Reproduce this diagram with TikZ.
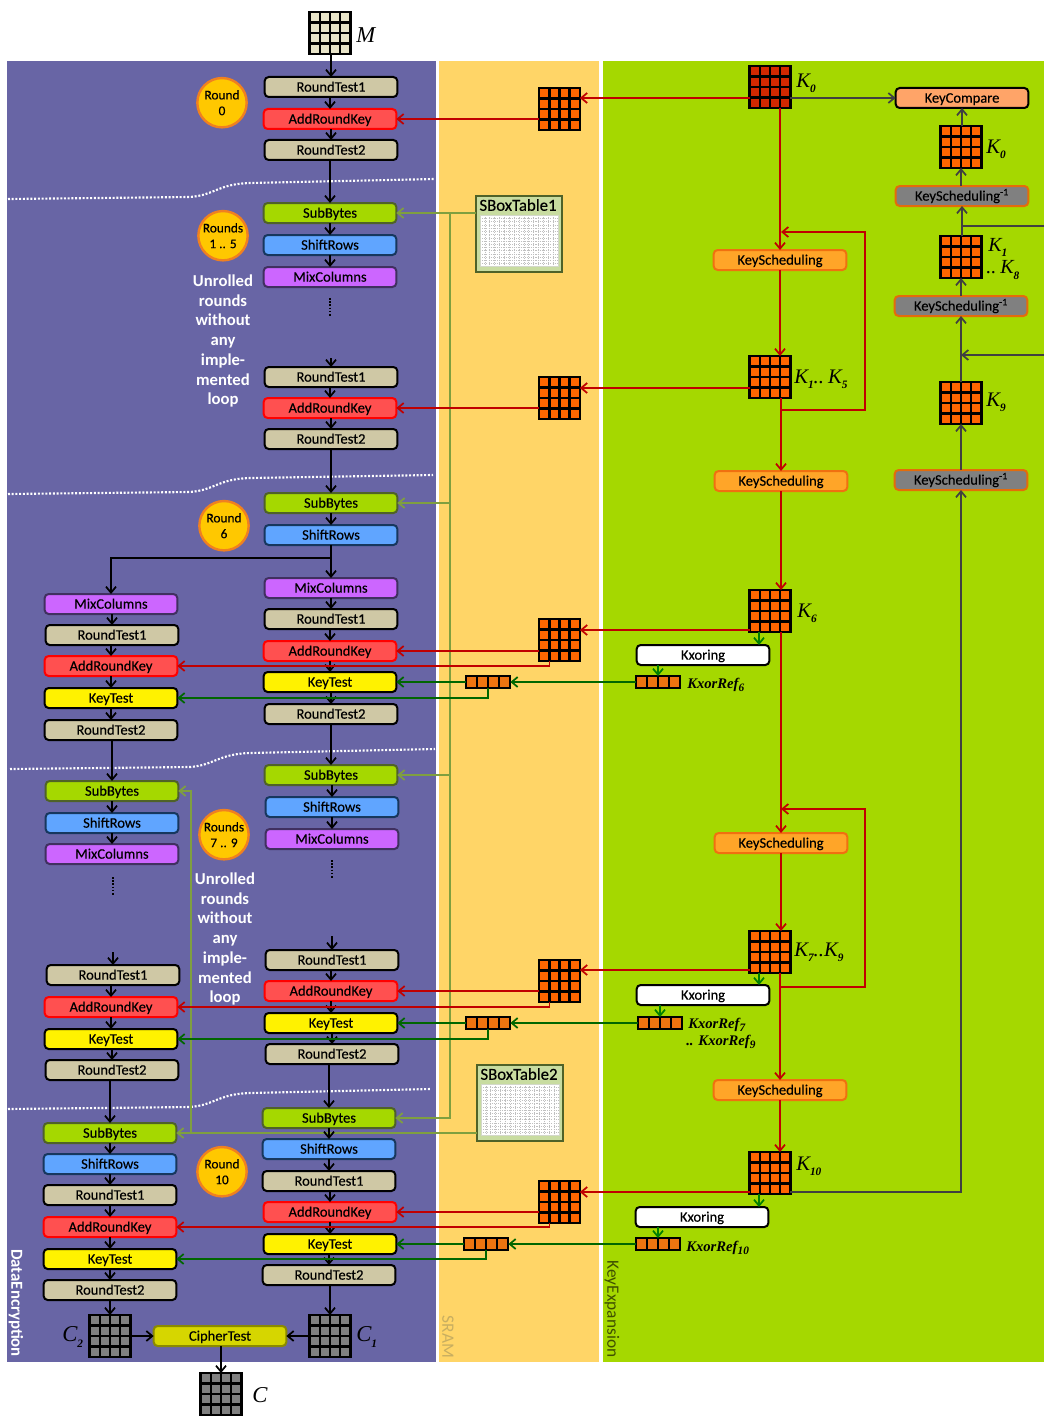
\documentclass[tikz,border=0pt]{standalone}
\usepackage{fontspec}
\setmainfont{Carlito}
\newfontfamily\boxf{Carlito}[FakeBold=0.25]
\newfontfamily\labfont{Liberation Serif}
\usetikzlibrary{arrows.meta,calc}
\definecolor{bandA}{HTML}{6865A5}
\definecolor{bandB}{HTML}{FFD567}
\definecolor{bandC}{HTML}{A5D800}
\definecolor{cRT}{HTML}{CFC8A5}
\definecolor{cARK}{HTML}{FF5050}
\definecolor{cSB}{HTML}{A5D800}
\definecolor{dSB}{HTML}{4F6228}
\definecolor{cSR}{HTML}{60A5FF}
\definecolor{dSR}{HTML}{17375E}
\definecolor{cMC}{HTML}{CC66FF}
\definecolor{dMC}{HTML}{403060}
\definecolor{cKS}{HTML}{FFA528}
\definecolor{dKS}{HTML}{F07010}
\definecolor{cKSI}{HTML}{808080}
\definecolor{dKSI}{HTML}{E46C0A}
\definecolor{cKC}{HTML}{FFA468}
\definecolor{cCT}{HTML}{D6D600}
\definecolor{dCT}{HTML}{8A8A00}
\definecolor{cCirc}{HTML}{FFC800}
\definecolor{dCirc}{HTML}{F08020}
\definecolor{gBeige}{HTML}{E8E4C8}
\definecolor{gOr}{HTML}{FF6600}
\definecolor{gBar}{HTML}{EE7410}
\definecolor{gDark}{HTML}{D22800}
\definecolor{gGrey}{HTML}{808080}
\definecolor{lRed}{HTML}{C00000}
\definecolor{lGreen}{HTML}{006600}
\definecolor{lGreenB}{HTML}{008000}
\definecolor{lOlive}{HTML}{7F9F3F}
\definecolor{lGrey}{HTML}{404040}
\definecolor{cTab}{HTML}{C8DCA0}
\definecolor{tSRAM}{HTML}{C8AE60}
\definecolor{tKE}{HTML}{3F5000}
\newcommand\ksub[1]{\raisebox{-3.8pt}{\fontsize{8.5}{9}\selectfont\bfseries\itshape #1}}
\newcommand\barsub[1]{\raisebox{-2.5pt}{\fontsize{8.5}{9}\selectfont\bfseries\itshape #1}}
\newcommand\vv[3][arr]{\draw[#1] (#3.north |- #2.south) -- (#3.north);}
\tikzset{
 x=0.75pt,y=-0.75pt,
 tip/.style={-{Straight Barb[length=4.5pt,width=7.5pt,line width=1.3pt]}},
 arr/.style={tip,line width=1.5pt,black},
 redarr/.style={tip,line width=1.4pt,lRed},
 greenarr/.style={tip,line width=1.4pt,lGreen},
 greenbarr/.style={tip,line width=1.4pt,lGreenB},
 olivearr/.style={tip,line width=1.3pt,lOlive},
 greyarr/.style={tip,line width=1.4pt,lGrey},
 sepline/.style={white,line width=1.6pt,dash pattern=on 1.5pt off 1.3pt},
 dotsline/.style={black,line width=1.5pt,dash pattern=on 1.2pt off 1.2pt},
 boxbase/.style={rectangle,rounded corners=3pt,minimum width=99.5pt,minimum height=15pt,inner sep=0pt,outer sep=0pt,line width=1.5pt,text height=9pt,text depth=2pt,font=\fontsize{10.9}{11}\selectfont\boxf,text=black},
 rt/.style={boxbase,fill=cRT,draw=black},
 ark/.style={boxbase,fill=cARK,draw=red},
 sb/.style={boxbase,fill=cSB,draw=dSB},
 sr/.style={boxbase,fill=cSR,draw=dSR},
 mc/.style={boxbase,fill=cMC,draw=dMC},
 kt/.style={boxbase,fill=yellow,draw=black},
 ks/.style={boxbase,fill=cKS,draw=dKS},
 ksi/.style={boxbase,fill=cKSI,draw=dKSI},
 kc/.style={boxbase,fill=cKC,draw=black},
 kx/.style={boxbase,fill=white,draw=black},
 ct/.style={boxbase,fill=cCT,draw=dCT},
 roundc/.style={circle,minimum size=37pt,inner sep=0pt,outer sep=0pt,fill=cCirc,draw=dCirc,line width=1.8pt,align=center,font=\fontsize{10}{11.8}\selectfont\boxf,text=black},
 unrolled/.style={align=center,text=white,font=\fontsize{12.5}{14.8}\selectfont\bfseries},
 keygrid/.style={rectangle,draw=black,line width=1.8pt,fill=#1,minimum width=30.5pt,minimum height=31.5pt,inner sep=0pt,outer sep=0pt,
   path picture={\foreach \k in {1,2,3}{
     \draw[black,line width=1.8pt] ($(path picture bounding box.north west)!\k/4!(path picture bounding box.north east)$) -- ($(path picture bounding box.south west)!\k/4!(path picture bounding box.south east)$);
     \draw[black,line width=1.8pt] ($(path picture bounding box.north west)!\k/4!(path picture bounding box.south west)$) -- ($(path picture bounding box.north east)!\k/4!(path picture bounding box.south east)$);
   }}},
 keybar/.style={rectangle,draw=black,line width=1.5pt,fill=gBar,minimum width=33.5pt,minimum height=9pt,inner sep=0pt,outer sep=0pt,
   path picture={\foreach \k in {1,2,3}{
     \draw[black,line width=1.5pt] ($(path picture bounding box.north west)!\k/4!(path picture bounding box.north east)$) -- ($(path picture bounding box.south west)!\k/4!(path picture bounding box.south east)$);
   }}},
 lab/.style={font=\fontsize{17}{17}\selectfont\labfont\itshape,anchor=west,inner sep=0pt,text=black},
 klab/.style={font=\fontsize{15.5}{16}\selectfont\labfont\itshape,anchor=west,inner sep=0pt,text=black},
 barlab/.style={font=\fontsize{11}{12}\selectfont\labfont\bfseries\itshape,anchor=west,inner sep=0pt,text=black},
 tabbox/.style={rectangle,draw=dSB,fill=cTab,line width=1.6pt,minimum width=65pt,minimum height=57.5pt,inner sep=0pt,outer sep=0pt},
 tabin/.style={rectangle,fill=white,draw=white!75!dSB,line width=0.5pt,minimum width=58.5pt,minimum height=38.5pt,inner sep=0pt,outer sep=0pt,
   path picture={
     \foreach \k in {1,...,15}{\draw[black!25,line width=0.4pt,dash pattern=on 0.8pt off 0.8pt] ($(path picture bounding box.north west)!\k/16!(path picture bounding box.north east)$) -- ($(path picture bounding box.south west)!\k/16!(path picture bounding box.south east)$);
     \draw[black!25,line width=0.4pt,dash pattern=on 0.8pt off 0.8pt] ($(path picture bounding box.north west)!\k/16!(path picture bounding box.south west)$) -- ($(path picture bounding box.north east)!\k/16!(path picture bounding box.south east)$);}
   }},
 tabtitle/.style={inner sep=0pt,font=\fontsize{12.6}{13}\selectfont\boxf,text=black},
 bandtxt/.style={rotate=-90,inner sep=0pt,font=\fontsize{13}{14}\selectfont},
}
\begin{document}
\begin{tikzpicture}
\useasboundingbox (0,0) rectangle (1044,1416);
% bands
\fill[bandA] (7,61) rectangle (436,1362);
\fill[bandB] (439,61) rectangle (599,1362);
\fill[bandC] (603,61) rectangle (1044,1362);
\node[bandtxt,text=white,font=\fontsize{12.6}{14}\selectfont\bfseries] (tDE) at (16,1303) {DataEncryption};
\node[bandtxt,text=tSRAM] (tSR) at (448,1337) {SRAM};
\node[bandtxt,text=tKE] (tKE1) at (612,1309) {KeyExpansion};
% separators
\draw[sepline] (8,199) -- (190,197) .. controls (215,195) and (218,184) .. (250,183) -- (435,179);
\draw[sepline] (8,494) -- (190,492) .. controls (215,490) and (218,479) .. (250,478) -- (433,475);
\draw[sepline] (10,769) -- (190,767) .. controls (215,765) and (218,754) .. (250,753) -- (435,749);
\draw[sepline] (8,1109) -- (190,1107) .. controls (215,1105) and (218,1094) .. (250,1093) -- (431,1089);
% circles
\node[roundc] (c0) at (222,102.7) {Round\\0};
\node[roundc] (c1) at (223,235.7) {Rounds\\1 .. 5};
\node[roundc] (c6) at (224,525.7) {Round\\6};
\node[roundc] (c7) at (224,834.7) {Rounds\\7 .. 9};
\node[roundc] (c10) at (222,1171.7) {Round\\10};
\node[unrolled] (u1) at (223,341) {Unrolled\\rounds\\without\\any\\imple-\\mented\\loop};
\node[unrolled] (u2) at (225,939) {Unrolled\\rounds\\without\\any\\imple-\\mented\\loop};
% main column
\node[rt] (RTa) at (331,87) {RoundTest1};
\node[ark] (ARa) at (330,119) {AddRoundKey};
\node[rt] (RUa) at (331,150) {RoundTest2};
\node[sb] (SBa) at (330,213) {SubBytes};
\node[sr] (SRa) at (330,245) {ShiftRows};
\node[mc] (MCa) at (330,277) {MixColumns};
\node[rt] (RTb) at (331,377) {RoundTest1};
\node[ark] (ARb) at (330,408) {AddRoundKey};
\node[rt] (RUb) at (331,439) {RoundTest2};
\node[sb] (SBb) at (331,503) {SubBytes};
\node[sr] (SRb) at (331,535) {ShiftRows};
\node[mc] (MCc) at (331,588) {MixColumns};
\node[rt] (RTc) at (331,619) {RoundTest1};
\node[ark] (ARc) at (330,651) {AddRoundKey};
\node[kt] (KTc) at (330,682) {KeyTest};
\node[rt] (RUc) at (331,714) {RoundTest2};
\node[sb] (SBd) at (331,775) {SubBytes};
\node[sr] (SRd) at (332,807) {ShiftRows};
\node[mc] (MCd) at (332,839) {MixColumns};
\node[rt] (RTe) at (332,960) {RoundTest1};
\node[ark] (ARe) at (331,991) {AddRoundKey};
\node[kt] (KTe) at (331,1023) {KeyTest};
\node[rt] (RUe) at (332,1054) {RoundTest2};
\node[sb] (SBf) at (329,1118) {SubBytes};
\node[sr] (SRf) at (329,1149) {ShiftRows};
\node[rt] (RTf) at (329,1181) {RoundTest1};
\node[ark] (ARf) at (330,1212) {AddRoundKey};
\node[kt] (KTf) at (330,1244) {KeyTest};
\node[rt] (RUf) at (329,1275) {RoundTest2};
% left column
\node[mc] (MCl) at (111,604) {MixColumns};
\node[rt] (RTl) at (112,635) {RoundTest1};
\node[ark] (ARl) at (111,666) {AddRoundKey};
\node[kt] (KTl) at (111,698) {KeyTest};
\node[rt] (RUl) at (111,730) {RoundTest2};
\node[sb] (SBl) at (112,791) {SubBytes};
\node[sr] (SRl) at (112,823) {ShiftRows};
\node[mc] (MCm) at (112,854) {MixColumns};
\node[rt] (RTm) at (113,975) {RoundTest1};
\node[ark] (ARm) at (111,1007) {AddRoundKey};
\node[kt] (KTm) at (111,1039) {KeyTest};
\node[rt] (RUm) at (112,1070) {RoundTest2};
\node[sb] (SBn) at (110,1133) {SubBytes};
\node[sr] (SRn) at (110,1164) {ShiftRows};
\node[rt] (RTn) at (110,1195) {RoundTest1};
\node[ark] (ARn) at (110,1227) {AddRoundKey};
\node[kt] (KTn) at (110,1259) {KeyTest};
\node[rt] (RUn) at (110,1290) {RoundTest2};
\node[ct] (CT) at (220,1336) {CipherTest};
% data grids
\node[keygrid=gBeige] (M) at (330,33) {};
\node[keygrid=gGrey] (C2) at (110,1336) {};
\node[keygrid=gGrey] (C1) at (330,1336) {};
\node[keygrid=gGrey] (Cc) at (221,1394) {};
\node[lab] (lM) at (356,35) {M};
\node[lab] (lC2) at (62,1337) {C\ksub{2}};
\node[lab] (lC1) at (356,1337) {C\ksub{1}};
\node[lab] (lC) at (252,1395) {C};
% sram grids
\node[keygrid=gOr] (G1) at (559.5,109) {};
\node[keygrid=gOr] (G2) at (559.5,398) {};
\node[keygrid=gOr] (G3) at (559.5,640) {};
\node[keygrid=gOr] (G4) at (559.5,981) {};
\node[keygrid=gOr] (G5) at (559.5,1202) {};
\node[keybar] (B3) at (488,682) {};
\node[keybar] (B4) at (488,1023) {};
\node[keybar] (B5) at (486,1244) {};
% sbox tables
\node[tabbox] (T1) at (519,234) {};
\node[tabin] (T1i) at (519,241) {};
\node[tabtitle] (T1t) at (518,205) {SBoxTable1};
\node[tabbox] (T2) at (520,1103) {};
\node[tabin] (T2i) at (520,1110) {};
\node[tabtitle] (T2t) at (519,1074) {SBoxTable2};
% key expansion
\node[keygrid=gDark] (K0) at (770,87) {};
\node[keygrid=gOr] (K1) at (770,377) {};
\node[keygrid=gOr] (K6) at (770,611) {};
\node[keygrid=gOr] (K7) at (770,952) {};
\node[keygrid=gOr] (K10) at (770,1173) {};
\node[ks] (KSa) at (780,260) {KeyScheduling};
\node[ks] (KSb) at (781,481) {KeyScheduling};
\node[ks] (KSc) at (781,843) {KeyScheduling};
\node[ks] (KSd) at (780,1090) {KeyScheduling};
\node[kx] (Xa) at (703,655) {Kxoring};
\node[kx] (Xb) at (703,995) {Kxoring};
\node[kx] (Xc) at (702,1217) {Kxoring};
\node[keybar] (Ba) at (658,682) {};
\node[keybar] (Bb) at (660,1023) {};
\node[keybar] (Bc) at (658,1244) {};
\node[kc] (KC) at (962,98) {KeyCompare};
\node[keygrid=gOr] (Ra) at (961,147) {};
\node[ksi] (KIa) at (962,196) {KeyScheduling\textsuperscript{-1}};
\node[keygrid=gOr] (Rb) at (961,257) {};
\node[ksi] (KIb) at (961,306) {KeyScheduling\textsuperscript{-1}};
\node[keygrid=gOr] (Rc) at (961,403) {};
\node[ksi] (KIc) at (961,480) {KeyScheduling\textsuperscript{-1}};
% key labels
\node[klab] (lK0) at (796,83) {K\ksub{0}};
\node[klab] (lK1) at (794,379) {K\ksub{1}..\hspace{3pt}K\ksub{5}};
\node[klab] (lK6) at (797,613) {K\ksub{6}};
\node[klab] (lK7) at (794,952) {K\ksub{7}..K\ksub{9}};
\node[klab] (lK10) at (796,1166) {K\ksub{10}};
\node[klab] (lRa) at (986,149) {K\ksub{0}};
\node[klab,font=\fontsize{15}{15}\selectfont\labfont\itshape] (lRb) at (988,247) {K\ksub{1}};
\node[klab,font=\fontsize{15}{15}\selectfont\labfont\itshape] (lRb2) at (986,270) {..\hspace{3pt}K\ksub{8}};
\node[klab] (lRc) at (986,402) {K\ksub{9}};
\node[barlab] (lBa) at (687,685) {KxorRef\barsub{6}};
\node[barlab] (lBb) at (688,1025) {KxorRef\barsub{7}};
\node[barlab] (lBb2) at (686,1042) {.. KxorRef\barsub{9}};
\node[barlab] (lBc) at (686,1248) {KxorRef\barsub{10}};
% dotted continuations
\coordinate (da1) at (330,298); \coordinate (da2) at (330,316); \coordinate (da3) at (331,358);
\coordinate (dd1) at (332,860); \coordinate (dd2) at (332,878); \coordinate (dd3) at (333,936);
\coordinate (dl1) at (113,877); \coordinate (dl2) at (113,895); \coordinate (dl3) at (113,952);
\draw[dotsline] (da1) -- (da2);
\draw[dotsline] (dd1) -- (dd2);
\draw[dotsline] (dl1) -- (dl2);
\draw[arr] (da3 -| RTb.north) -- (RTb.north);
\draw[arr] (dd3 -| RTe.north) -- (RTe.north);
\draw[arr] (dl3 -| RTm.north) -- (RTm.north);
% olive sbox lines
\coordinate (sj) at (450,214);
\coordinate (sb) at (191,791);
\draw[olivearr] (T1.west |- SBa.east) -- (SBa.east);
\draw[olivearr] (sj) |- (SBf.east);
\draw[olivearr] (sj |- SBb.east) -- (SBb.east);
\draw[olivearr] (sj |- SBd.east) -- (SBd.east);
\draw[olivearr] (T2.west |- SBn.east) -- (SBn.east);
\draw[olivearr] (sb |- SBn.east) -- (SBl.east -| sb) -- (SBl.east);
% black chains
\foreach \a/\b in {M/RTa,RTa/ARa,ARa/RUa,RUa/SBa,SBa/SRa,SRa/MCa,RTb/ARb,ARb/RUb,RUb/SBb,SBb/SRb,SRb/MCc,MCc/RTc,RTc/ARc,ARc/KTc,KTc/RUc,RUc/SBd,SBd/SRd,SRd/MCd,RTe/ARe,ARe/KTe,KTe/RUe,RUe/SBf,SBf/SRf,SRf/RTf,RTf/ARf,ARf/KTf,KTf/RUf,MCl/RTl,RTl/ARl,ARl/KTl,KTl/RUl,RUl/SBl,SBl/SRl,SRl/MCm,RTm/ARm,ARm/KTm,KTm/RUm,RUm/SBn,SBn/SRn,SRn/RTn,RTn/ARn,ARn/KTn,KTn/RUn,RUn/C2,RUf/C1}{\vv{\a}{\b}}
\coordinate (brA) at (331,558);
\draw[arr] (brA) -| (MCl.north);
\draw[arr] (C2.east |- CT.west) -- (CT.west);
\draw[arr] (C1.west |- CT.east) -- (CT.east);
\vv{CT}{Cc}
% red
\coordinate (g1e) at ([yshift=8.25pt]G1.east);
\coordinate (g2e) at ([yshift=7.5pt]G2.east);
\coordinate (g3e) at ([yshift=7.5pt]G3.east);
\coordinate (g4e) at ([yshift=8.25pt]G4.east);
\coordinate (g5e) at ([yshift=7.5pt]G5.east);
\draw[redarr] (K0.west |- g1e) -- (g1e);
\draw[redarr] (K1.west |- g2e) -- (g2e);
\draw[redarr] (K6.west |- g3e) -- (g3e);
\draw[redarr] (K7.west |- g4e) -- (g4e);
\draw[redarr] (K10.west |- g5e) -- (g5e);
\draw[redarr] (G1.west |- ARa.east) -- (ARa.east);
\draw[redarr] (G2.west |- ARb.east) -- (ARb.east);
\draw[redarr] (G3.west |- ARc.east) -- (ARc.east);
\draw[redarr] (G4.west |- ARe.east) -- (ARe.east);
\draw[redarr] (G5.west |- ARf.east) -- (ARf.east);
\draw[redarr] ([xshift=-7.5pt]G3.south) |- (ARl.east);
\draw[redarr] ([xshift=-7.5pt]G4.south) |- (ARm.east);
\draw[redarr] ([xshift=-7.5pt]G5.south) |- (ARn.east);
\draw[redarr] (KSa.north |- K0.south) -- (KSa.north);
\draw[redarr] (KSa.south) -- (KSa.south |- K1.north);
\draw[redarr] (KSb.north |- K1.south) -- (KSb.north);
\draw[redarr] (KSb.south) -- (KSb.south |- K6.north);
\draw[redarr] (KSc.north |- K6.south) -- (KSc.north);
\draw[redarr] (KSc.south) -- (KSc.south |- K7.north);
\draw[redarr] (KSd.north |- K7.south) -- (KSd.north);
\draw[redarr] (KSd.south) -- (KSd.south |- K10.north);
\coordinate (la) at (781,410); \coordinate (lb) at (781,232);
\coordinate (lc) at (781,987); \coordinate (ld) at (781,809);
\draw[redarr] (la) -- ++(84,0) |- (lb);
\draw[redarr] (lc) -- ++(84,0) |- (ld);
% green
\draw[greenarr] (Ba.west) -- (B3.east);
\draw[greenarr] (Bb.west) -- (B4.east);
\draw[greenarr] (Bc.west) -- (B5.east);
\draw[greenarr] (B3.west) -- (B3.west -| KTc.east);
\draw[greenarr] (B4.west) -- (B4.west -| KTe.east);
\draw[greenarr] (B5.west) -- (B5.west -| KTf.east);
\draw[greenarr] (B3.south) |- (KTl.east);
\draw[greenarr] (B4.south) |- (KTm.east);
\draw[greenarr] (B5.south) |- (KTn.east);
\coordinate (x6) at ([xshift=-8.25pt]K6.south);
\coordinate (x7) at ([xshift=-8.25pt]K7.south);
\coordinate (x10) at ([xshift=-8.25pt]K10.south);
\draw[greenbarr] (x6) -- (x6 |- Xa.north);
\draw[greenbarr] (x7) -- (x7 |- Xb.north);
\draw[greenbarr] (x10) -- (x10 |- Xc.north);
\vv[greenbarr]{Xa}{Ba}
\vv[greenbarr]{Xb}{Bb}
\vv[greenbarr]{Xc}{Bc}
% grey
\draw[greyarr] (K0.east |- KC.west) -- (KC.west);
\draw[greyarr] (K10.east |- g5e) -| (KIc.south);
\foreach \a/\b in {KIc/Rc,Rc/KIb,KIb/Rb,Rb/KIa,KIa/Ra,Ra/KC}{\draw[greyarr] (\b.south |- \a.north) -- (\b.south);}
\coordinate (ra) at (1044,355); \coordinate (rb) at (961,355);
\coordinate (rc) at (1044,226); \coordinate (rd) at (962,226);
\draw[greyarr] (ra) -- (rb);
\draw[lGrey,line width=1.4pt] (rc) -- (rd);
\end{tikzpicture}
\end{document}
